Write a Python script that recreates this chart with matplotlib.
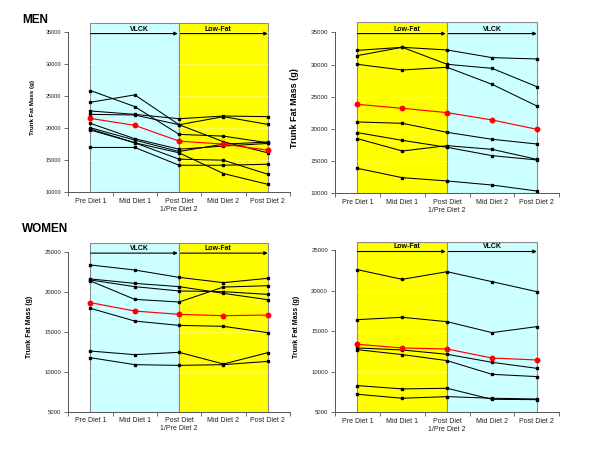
import matplotlib.pyplot as plt

plt.rcParams['font.family'] = ['Liberation Sans', 'DejaVu Sans']

# x categories
phases = ['Pre Diet 1', 'Mid Diet 1', 'Post Diet\n1/Pre Diet 2', 'Mid Diet 2', 'Post Diet 2']

# MEN - VLCK then Low-Fat (individual subjects + mean in red)
men_a = [
    [25850, 23340, 19000, 18730, 17690],
    [24020, 25170, 20510, 17850, 16120],
    [22660, 22130, 21450, 21870, 21770],
    [22130, 22030, 20510, 21770, 20560],
    [20720, 18320, 16690, 17170, 17590],
    [20040, 18110, 16330, 17480, 17800],
    [19830, 17690, 16120, 12880, 11200],
    [19680, 17690, 15130, 14970, 12770],
    [16960, 16960, 14180, 14180, 14340],
]
men_a_mean = [21500, 20410, 17950, 17480, 16540]

# MEN - Low-Fat then VLCK
men_b = [
    [32200, 32670, 32260, 31070, 30860],
    [31380, 32670, 30030, 29410, 26560],
    [30030, 29150, 29570, 26930, 23560],
    [21080, 20870, 19470, 18390, 17660],
    [19420, 18230, 17140, 15850, 15180],
    [18490, 16570, 17400, 16830, 15280],
    [13880, 12430, 11920, 11290, 10360],
]
men_b_mean = [23820, 23200, 22530, 21390, 19940]

# WOMEN - VLCK then Low-Fat
women_a = [
    [23340, 22710, 21790, 21130, 21670],
    [21590, 21040, 20630, 19790, 19000],
    [21460, 20630, 20090, 20000, 19670],
    [21340, 19040, 18710, 20580, 20750],
    [17920, 16330, 15790, 15670, 14880],
    [12580, 12130, 12420, 10960, 12380],
    [11750, 10880, 10790, 10880, 11290],
]
women_a_mean = [18630, 17580, 17170, 17000, 17080]

# WOMEN - Low-Fat then VLCK
women_b = [
    [22580, 21390, 22330, 21100, 19870],
    [16420, 16710, 16170, 14820, 15560],
    [12930, 12680, 12150, 11160, 10420],
    [12720, 12110, 11370, 9680, 9400],
    [8290, 7880, 7960, 6600, 6560],
    [7220, 6730, 6930, 6730, 6640],
]
women_b_mean = [13380, 12930, 12800, 11690, 11450]

CYAN = '#ccffff'
YELLOW = '#ffff00'


def draw_panel(ax, subjects, mean, order, yticks, ytop, arrow_y, label_y, ylab_size, tick_size):
    x = list(range(len(phases)))
    ymin = yticks[0]
    # shaded diet periods
    first, second = order
    cols = {'VLCK': CYAN, 'Low-Fat': YELLOW}
    ax.axvspan(0, 2, facecolor=cols[first], edgecolor='#8a8a8a', lw=0.8, zorder=1)
    ax.axvspan(2, 4, facecolor=cols[second], edgecolor='#8a8a8a', lw=0.8, zorder=1)
    for t in yticks[1:]:
        ax.axhline(t, color='white', alpha=0.35, lw=0.6, zorder=1.5)

    for s in subjects:
        ax.plot(x, s, color='black', lw=0.75, marker='s', ms=1.7, zorder=3)
    ax.plot(x, mean, color='red', lw=0.85, marker='o', ms=3.2, zorder=4)

    # period arrows
    ax.annotate('', xy=(1.97, arrow_y), xytext=(0, arrow_y),
                arrowprops=dict(arrowstyle='-|>', color='black', lw=0.8,
                                mutation_scale=5, shrinkA=0, shrinkB=0), zorder=5)
    ax.annotate('', xy=(4, arrow_y), xytext=(2.03, arrow_y),
                arrowprops=dict(arrowstyle='-|>', color='black', lw=0.8,
                                mutation_scale=5, shrinkA=0, shrinkB=0), zorder=5)
    pos1 = 1.1
    pos2 = 2.88 if second == 'Low-Fat' else 3.0
    ax.text(pos1, label_y, first, ha='center', va='center', fontsize=5, fontweight='bold')
    ax.text(pos2, label_y, second, ha='center', va='center', fontsize=5, fontweight='bold')

    ax.set_xlim(-0.5, 4.5)
    ax.set_ylim(ymin, ytop)
    ax.set_xticks(x)
    ax.set_xticklabels(phases, fontsize=5, color='#222222')
    ax.set_xticks([i - 0.5 for i in range(6)], minor=True)
    ax.tick_params(axis='x', which='major', length=0, pad=4)
    ax.tick_params(axis='x', which='minor', length=3, color='#555555', width=0.6)
    ax.set_yticks(yticks)
    ax.set_yticklabels([str(t) for t in yticks], fontsize=tick_size, color='#222222')
    ax.tick_params(axis='y', length=3, color='#555555', width=0.6, pad=2)
    ax.set_ylabel('Trunk Fat Mass (g)', fontsize=ylab_size, fontweight='bold', labelpad=8)
    for side in ['top', 'right']:
        ax.spines[side].set_visible(False)
    ax.spines['left'].set_bounds(ymin, yticks[-1])
    ax.spines['left'].set_color('#555555')
    ax.spines['bottom'].set_color('#555555')
    ax.spines['left'].set_linewidth(0.7)
    ax.spines['bottom'].set_linewidth(0.7)


fig = plt.figure(figsize=(6, 4.5), dpi=100)
ax_tl = fig.add_axes([0.1138, 0.5733, 0.3695, 0.3763])
ax_tr = fig.add_axes([0.5583, 0.5704, 0.3738, 0.3807])
ax_bl = fig.add_axes([0.1138, 0.0851, 0.3695, 0.3756])
ax_br = fig.add_axes([0.5583, 0.0838, 0.3738, 0.3784])

men_ticks = [10000, 15000, 20000, 25000, 30000, 35000]
women_ticks = [5000, 10000, 15000, 20000, 25000]

draw_panel(ax_tl, men_a, men_a_mean, ('VLCK', 'Low-Fat'), men_ticks, 36450, 34750, 35450, 4.5, 4)
draw_panel(ax_tr, men_b, men_b_mean, ('Low-Fat', 'VLCK'), men_ticks, 36600, 34800, 35500, 6.5, 4.5)
draw_panel(ax_bl, women_a, women_a_mean, ('VLCK', 'Low-Fat'), women_ticks, 26125, 24820, 25380, 5, 4.3)
draw_panel(ax_br, women_b, women_b_mean, ('Low-Fat', 'VLCK'), women_ticks, 25990, 24820, 25380, 5, 4.3)

fig.text(0.037, 0.955, 'MEN', fontsize=8.5, fontweight='bold', va='center')
fig.text(0.037, 0.49, 'WOMEN', fontsize=8.5, fontweight='bold', va='center')

fig.savefig('out.png', dpi=100)
